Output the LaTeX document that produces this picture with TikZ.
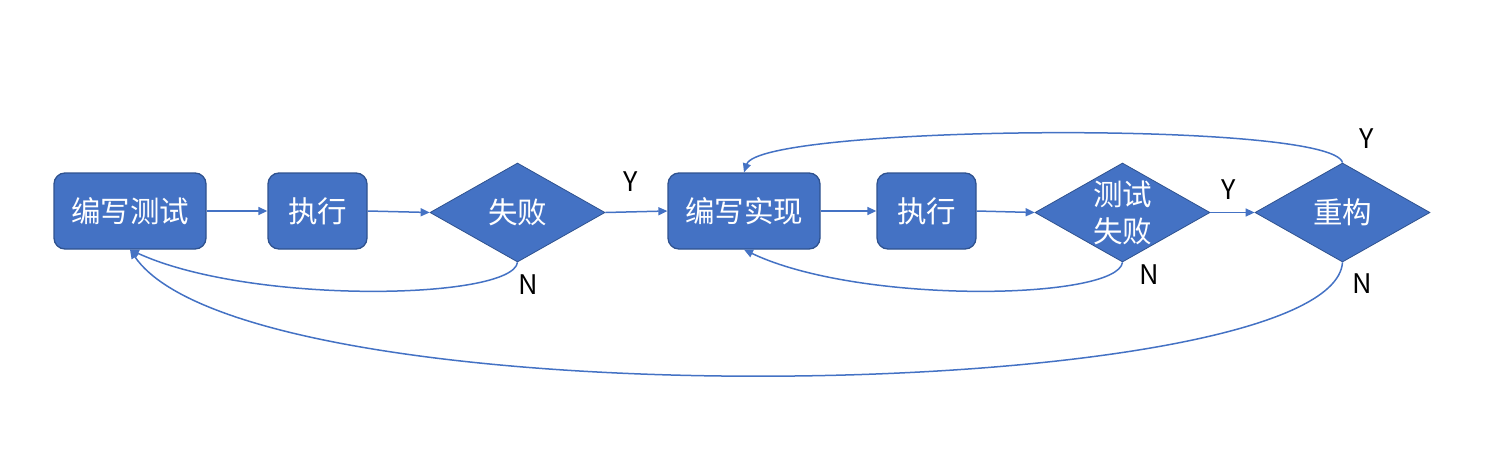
\documentclass[tikz,border=0pt]{standalone}
\usepackage{fontspec}
\newfontfamily\cjk{Noto Sans CJK SC}
\usetikzlibrary{shapes.geometric,arrows.meta}
\definecolor{fillblue}{HTML}{4472C4}
\definecolor{edgeblue}{HTML}{2F528F}
\begin{document}
\begin{tikzpicture}[x=1pt,y=-1pt,
  boxnode/.style={draw=edgeblue,fill=fillblue,line width=1.3pt,rounded corners=11pt,
    minimum height=76pt,inner sep=0pt,text=white,font=\cjk\fontsize{29.5}{37}\selectfont},
  decnode/.style={diamond,draw=edgeblue,fill=fillblue,line width=0.8pt,aspect=1.77,
    minimum width=175pt,minimum height=99pt,inner sep=0pt,text=white,align=center,
    font=\cjk\fontsize{29.5}{37}\selectfont},
  link/.style={draw=fillblue,line width=1.5pt,-{Triangle[length=9pt,width=8pt]}},
  lbl/.style={text=black,font=\cjk\fontsize{27}{30}\selectfont,inner sep=0pt}]
\useasboundingbox (0,0) rectangle (1490,466);
\node[boxnode,minimum width=152pt] (A) at (130,211) {编写测试};
\node[boxnode,minimum width=99pt] (B) at (317.5,211) {执行};
\node[decnode] (C) at (517.5,212.5) {失败};
\node[boxnode,minimum width=152pt] (D) at (744,211) {编写实现};
\node[boxnode,minimum width=99pt] (E) at (926.5,211) {执行};
\node[decnode] (F) at (1122.5,212.5) {测试\\失败};
\node[decnode] (G) at (1342.5,212.5) {重构};
\draw[link] (A.east) -- (B.west);
\draw[link] (B.east) -- (C.west);
\draw[link] (C.east) -- (D.west);
\draw[link] (D.east) -- (E.west);
\draw[link] (E.east) -- (F.west);
\draw[link] (F.east) -- (G.west);
\draw[link] (C.south) .. controls (512,300) and (250,305) .. (A.south);
\draw[link] (F.south) .. controls (1117,300) and (860,305) .. (D.south);
\draw[link] (G.north) .. controls (1332,120) and (760,125) .. (D.north);
\draw[link] (G.south) .. controls (1332,405) and (250,425) .. (A.south);
\node[lbl] (y1) at (631,182) {Y};
\node[lbl] (n1) at (528,285) {N};
\node[lbl] (y2) at (1229,190) {Y};
\node[lbl] (n2) at (1149,275) {N};
\node[lbl] (y3) at (1367,139) {Y};
\node[lbl] (n3) at (1362,284) {N};
\end{tikzpicture}
\end{document}
